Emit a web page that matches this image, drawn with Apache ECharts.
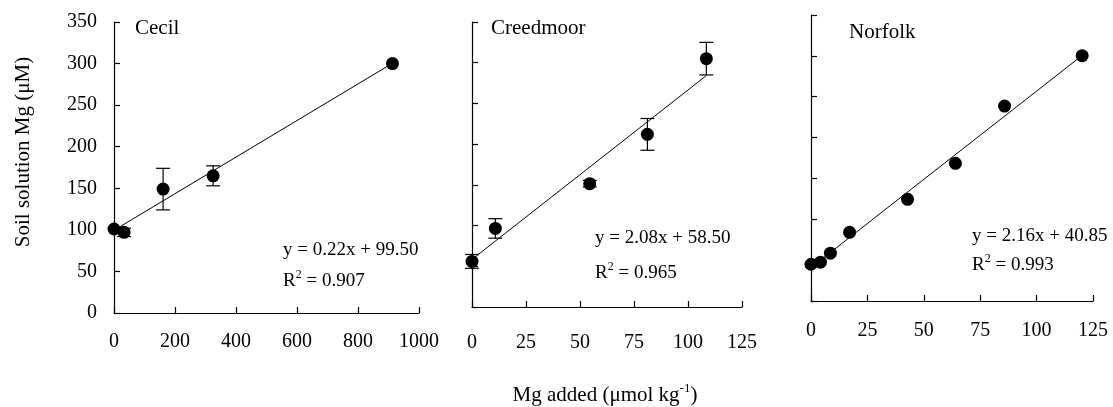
<!DOCTYPE html>
<html>
<head>
<meta charset="utf-8">
<style>
  html, body { margin: 0; padding: 0; background: #fff; }
  #chart { width: 1113px; height: 407px; }
</style>
<script src="https://cdn.jsdelivr.net/npm/echarts@6/dist/echarts.min.js"></script>
</head>
<body>
<div id="chart"></div>
<script>
// Soil names, one panel each
const soils = ['Cecil', 'Creedmoor', 'Norfolk'];

// Cecil: Mg added (µmol/kg), soil solution Mg (µM), standard error
const cecilX = [0, 33, 161, 325, 913];
const cecilY = [101, 97, 149, 165, 300];
const cecilErr = [0, 5, 25, 12, 0];

// Creedmoor
const creedX = [0, 10.8, 54.5, 81.2, 108.5];
const creedY = [56, 96.5, 151.5, 212, 305];
const creedErr = [8.5, 12, 4, 19.5, 20];

// Norfolk
const norfX = [0, 4.2, 8.6, 17.1, 42.8, 64, 85.8, 120.2];
const norfY = [45, 47.5, 58.5, 84, 124.4, 168.5, 238.6, 300.2];
const norfErr = [];

// Linear fits: slope, intercept, R²
const fitSlope = [0.22, 2.08, 2.16];
const fitIntercept = [99.50, 58.50, 40.85];
const fitR2 = ['0.907', '0.965', '0.993'];

// Axis ticks
const yTicks = [0, 50, 100, 150, 200, 250, 300, 350];
const xMax = [1000, 125, 125];
const xStep = [200, 25, 25];

const FONT = '"Times New Roman", "Liberation Serif", serif';
const xs = [cecilX, creedX, norfX];
const ys = [cecilY, creedY, norfY];
const errs = [cecilErr, creedErr, norfErr];

const grids = [
  { left: 114, top: 22, width: 305, height: 291 },
  { left: 472, top: 22, width: 270, height: 285 },
  { left: 811, top: 15, width: 282, height: 286 }
];
const xLabelMargin = [19, 26, 20];

const axisLine = { show: true, lineStyle: { color: '#000', width: 1.2 } };
const axisTick = { show: true, inside: true, length: 6, lineStyle: { color: '#000', width: 1.2 } };
const plain = v => String(v);

const xAxis = grids.map((g, i) => ({
  type: 'value', gridIndex: i, min: 0, max: xMax[i], interval: xStep[i],
  axisLine, axisTick, splitLine: { show: false },
  axisLabel: { show: true, color: '#000', fontFamily: FONT, fontSize: 20, margin: xLabelMargin[i], formatter: plain }
}));
const yAxis = grids.map((g, i) => ({
  type: 'value', gridIndex: i, min: yTicks[0], max: yTicks[yTicks.length - 1], interval: 50,
  axisLine, axisTick, splitLine: { show: false },
  axisLabel: { show: i === 0, color: '#000', fontFamily: FONT, fontSize: 20, margin: 17, formatter: plain }
}));

const series = [];
soils.forEach((name, i) => {
  const pts = xs[i].map((x, k) => [x, ys[i][k]]);
  const x0 = Math.min(...xs[i]);
  const x1 = Math.max(...xs[i]);
  // fitted line from the stated equation
  series.push({
    type: 'line', name: name + ' fit', xAxisIndex: i, yAxisIndex: i,
    data: [[x0, fitSlope[i] * x0 + fitIntercept[i]], [x1, fitSlope[i] * x1 + fitIntercept[i]]],
    symbol: 'none', lineStyle: { color: '#000', width: 1 }, z: 2, silent: true
  });
  // error bars (skipped where the error is zero)
  if (errs[i].length) {
    series.push({
      type: 'custom', name: name + ' error', xAxisIndex: i, yAxisIndex: i,
      data: pts.map((p, k) => [p[0], p[1], errs[i][k]]),
      z: 3, silent: true,
      renderItem: (params, api) => {
        const x = api.value(0), y = api.value(1), e = api.value(2);
        if (!e) return null;
        const hi = api.coord([x, y + e]);
        const lo = api.coord([x, y - e]);
        const cap = 7;
        const st = { stroke: '#000', lineWidth: 1.2 };
        return {
          type: 'group',
          children: [
            { type: 'line', shape: { x1: hi[0], y1: hi[1], x2: lo[0], y2: lo[1] }, style: st },
            { type: 'line', shape: { x1: hi[0] - cap, y1: hi[1], x2: hi[0] + cap, y2: hi[1] }, style: st },
            { type: 'line', shape: { x1: lo[0] - cap, y1: lo[1], x2: lo[0] + cap, y2: lo[1] }, style: st }
          ]
        };
      }
    });
  }
  // mean values
  series.push({
    type: 'scatter', name: name, xAxisIndex: i, yAxisIndex: i,
    data: pts, symbol: 'circle', symbolSize: 13,
    itemStyle: { color: '#000', opacity: 1 }, z: 4, silent: true
  });
});

// panel names and fit equations
const namePos = [[135, 28], [491, 28], [849, 32]];
const eqPos = [[283, 250, 280], [595, 238, 272], [972, 236, 264]];

const supRich = {
  n: { fontFamily: FONT, fontSize: 19, color: '#000', lineHeight: 22, verticalAlign: 'bottom' },
  s: { fontFamily: FONT, fontSize: 12, color: '#000', lineHeight: 22, verticalAlign: 'top' }
};

const graphic = [];
soils.forEach((name, i) => {
  graphic.push({
    type: 'text', x: namePos[i][0], y: namePos[i][1],
    style: { text: name, fontFamily: FONT, fontSize: 21, fill: '#000', textVerticalAlign: 'middle' }
  });
  graphic.push({
    type: 'text', x: eqPos[i][0], y: eqPos[i][1],
    style: {
      text: 'y = ' + fitSlope[i].toFixed(2) + 'x + ' + fitIntercept[i].toFixed(2),
      fontFamily: FONT, fontSize: 19, fill: '#000', textVerticalAlign: 'middle'
    }
  });
  graphic.push({
    type: 'text', x: eqPos[i][0], y: eqPos[i][2],
    style: {
      text: '{n|R}{s|2}{n| = ' + fitR2[i] + '}',
      rich: supRich, textVerticalAlign: 'middle'
    }
  });
});

// axis titles
graphic.push({
  type: 'text', x: 23, y: 152, rotation: Math.PI / 2,
  style: {
    text: 'Soil solution Mg (μM)', fontFamily: FONT, fontSize: 21, fill: '#000',
    textAlign: 'center', textVerticalAlign: 'middle'
  }
});
graphic.push({
  type: 'text', x: 605, y: 394,
  style: {
    text: '{n|Mg added (μmol kg}{s|-1}{n|)}',
    rich: {
      n: { fontFamily: FONT, fontSize: 21, color: '#000', lineHeight: 24, verticalAlign: 'bottom' },
      s: { fontFamily: FONT, fontSize: 13, color: '#000', lineHeight: 24, verticalAlign: 'top' }
    },
    textAlign: 'center', textVerticalAlign: 'middle'
  }
});

const chart = echarts.init(document.getElementById('chart'), null, { renderer: 'canvas' });
chart.setOption({
  backgroundColor: '#fff',
  animation: false,
  grid: grids.map(g => Object.assign({ outerBoundsMode: 'none', containLabel: false }, g)),
  xAxis, yAxis, series, graphic
});
</script>
</body>
</html>
